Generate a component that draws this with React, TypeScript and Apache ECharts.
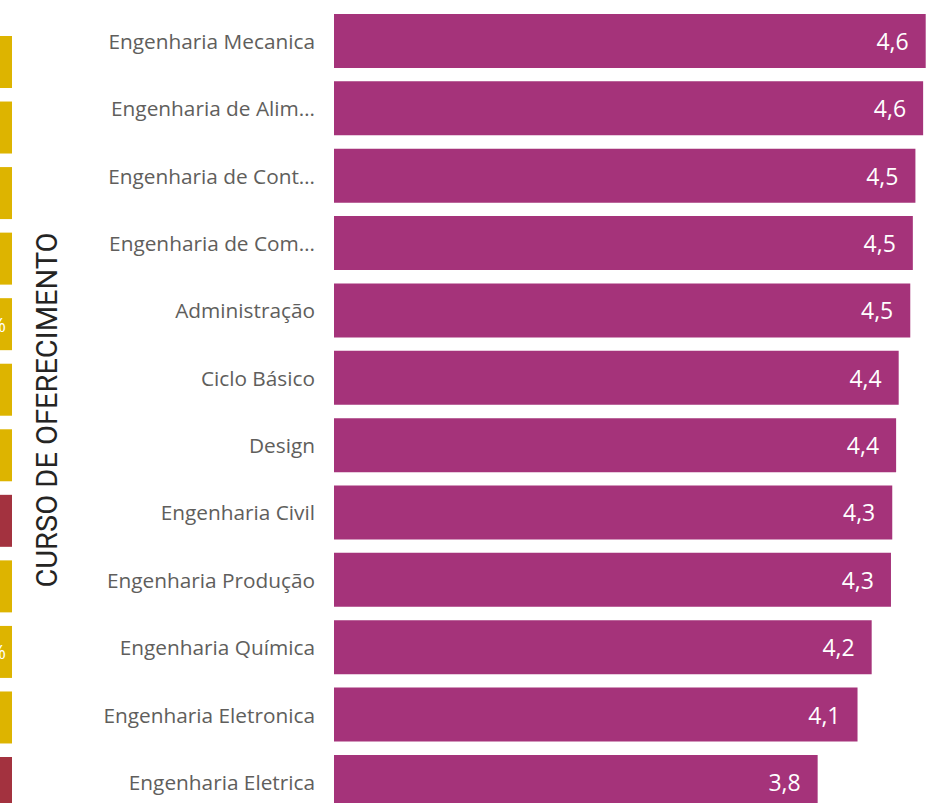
import React, { useEffect, useRef } from "react";
import * as echarts from "echarts";

const categories = [
  "Engenharia Mecanica",
  "Engenharia de Alim…",
  "Engenharia de Cont…",
  "Engenharia de Com…",
  "Administração",
  "Ciclo Básico",
  "Design",
  "Engenharia Civil",
  "Engenharia Produção",
  "Engenharia Química",
  "Engenharia Eletronica",
  "Engenharia Eletrica",
];
const values = [4.6, 4.58, 4.52, 4.5, 4.48, 4.39, 4.37, 4.34, 4.33, 4.18, 4.07, 3.76];

// cropped neighbouring chart on the left edge
const sideValues = [1, 1, 1, 1, 1, 1, 1, 1, 1, 1, 1, 1];
const sideColors = ["y", "y", "y", "y", "y", "y", "y", "r", "y", "y", "y", "r"];
const sideLabels = ["", "", "", "", "%", "", "", "", "", "%", "", ""];

const MAGENTA = "#A5337A";
const YELLOW = "#DDB400";
const RED = "#A3323F";

export default function App() {
  const ref = useRef<HTMLDivElement>(null);
  useEffect(() => {
    if (!ref.current) return;
    const chart = echarts.init(ref.current, undefined, { renderer: "svg" });
    chart.setOption({
      animation: false,
      grid: [
        { left: 334, right: 2, top: 7.3, bottom: 14.4 },
        { left: 0, width: 12, top: 29.2, bottom: 14.2 },
      ],
      xAxis: [
        { type: "value", min: 0, max: 4.75, show: false, gridIndex: 0 },
        { type: "value", min: 0, max: 1, show: false, gridIndex: 1 },
      ],
      yAxis: [
        {
          type: "category",
          gridIndex: 0,
          inverse: true,
          data: categories,
          axisLine: { show: false },
          axisTick: { show: false },
          splitLine: { show: false },
          axisLabel: {
            fontFamily: "Open Sans",
            fontSize: 20.8,
            color: "#605E5C",
            margin: 19,
          },
        },
        {
          type: "category",
          gridIndex: 1,
          inverse: true,
          data: categories.map((_, i) => String(i)),
          show: false,
        },
      ],
      series: [
        {
          type: "bar",
          xAxisIndex: 0,
          yAxisIndex: 0,
          data: values,
          barWidth: 54,
          itemStyle: { color: MAGENTA },
          label: {
            show: true,
            position: "insideRight",
            distance: 17,
            color: "#FFFFFF",
            fontFamily: "Open Sans",
            fontSize: 23,
            formatter: (p: any) => p.value.toFixed(1).replace(".", ","),
          },
        },
        {
          type: "bar",
          xAxisIndex: 1,
          yAxisIndex: 1,
          barWidth: 52,
          data: sideValues.map((v, i) => ({
            value: v,
            itemStyle: { color: sideColors[i] === "r" ? RED : YELLOW },
          })),
          label: {
            show: true,
            position: "insideRight",
            distance: 6,
            color: "#FFFFFF",
            fontFamily: "Open Sans",
            fontSize: 20,
            formatter: (p: any) => sideLabels[p.dataIndex],
          },
        },
      ],
      graphic: [
        {
          type: "text",
          x: 47,
          y: 410,
          rotation: Math.PI / 2,
          style: {
            text: "CURSO DE OFERECIMENTO",
            fontFamily: "Roboto",
            fontSize: 29,
            fill: "#252423",
            align: "center",
            verticalAlign: "middle",
          },
        },
      ],
    });
    return () => chart.dispose();
  }, []);
  return (
    <div
      ref={ref}
      style={{ position: "fixed", left: 0, top: 0, width: 947, height: 830, background: "#FFFFFF" }}
    />
  );
}
